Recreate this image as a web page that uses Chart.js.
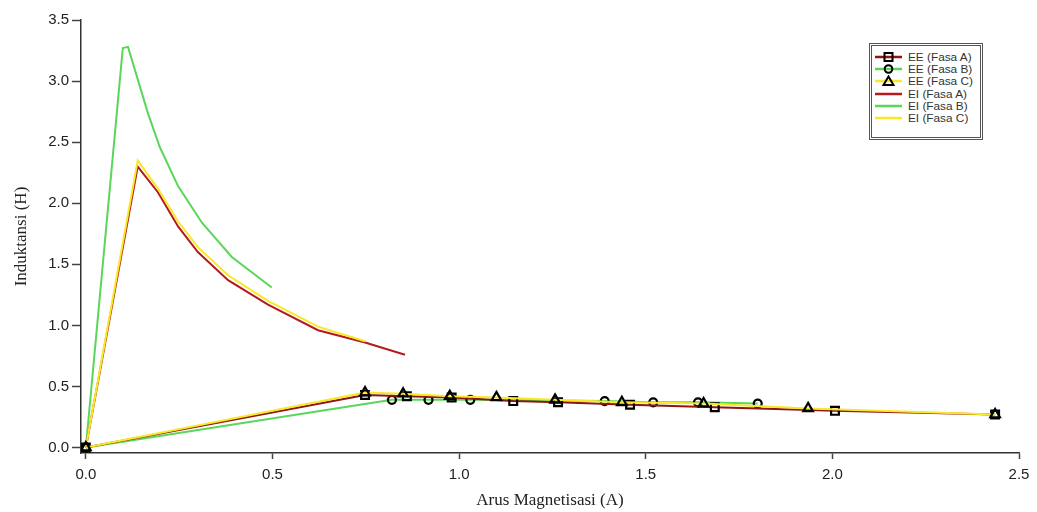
<!DOCTYPE html>
<html>
<head>
<meta charset="utf-8">
<script src="https://cdn.jsdelivr.net/npm/chart.js@4.4.0/dist/chart.umd.min.js"></script>
<style>
html, body { margin: 0; padding: 0; background: #fff; }
#wrap { position: relative; width: 1037px; height: 512px; }
#legend {
    position: absolute; left: 869px; top: 43px; width: 105px; height: 86px;
    border: 3px double #555; background: #fff; padding: 5px 0 0 3px;
    font-family: 'Liberation Sans', Arial, sans-serif; font-size: 11.8px; color: #333;
}
#legend .row { height: 12.2px; line-height: 12.2px; white-space: nowrap; display: flex; align-items: center; }
#legend svg { margin-right: 6px; flex: none; }
</style>
</head>
<body>
<div id="wrap">
<canvas id="myLineChart" width="1037" height="512"></canvas>
<div id="legend"></div>
</div>
<script>
// Tick values
const xTicks = [0, 0.5, 1.0, 1.5, 2.0, 2.5];
const yTicks = [0, 0.5, 1.0, 1.5, 2.0, 2.5, 3.0, 3.5];

// EE core (with markers)
const eeAX = [0, 0.748, 0.86, 0.98, 1.145, 1.265, 1.458, 1.685, 2.007, 2.436];
const eeAY = [0, 0.43, 0.42, 0.41, 0.38, 0.37, 0.35, 0.33, 0.30, 0.27];
const eeBX = [0, 0.82, 0.918, 1.03, 1.39, 1.52, 1.64, 1.80];
const eeBY = [0, 0.39, 0.39, 0.39, 0.38, 0.37, 0.37, 0.36];
const eeCX = [0, 0.748, 0.85, 0.975, 1.10, 1.257, 1.436, 1.655, 1.935, 2.436];
const eeCY = [0, 0.45, 0.44, 0.42, 0.41, 0.39, 0.37, 0.36, 0.32, 0.27];

// EI core (lines only)
const eiAX = [0, 0.139, 0.193, 0.247, 0.300, 0.381, 0.488, 0.622, 0.748, 0.855];
const eiAY = [0, 2.30, 2.09, 1.81, 1.60, 1.37, 1.17, 0.96, 0.86, 0.76];
const eiBX = [0, 0.099, 0.113, 0.166, 0.198, 0.247, 0.311, 0.391, 0.498];
const eiBY = [0, 3.27, 3.28, 2.74, 2.46, 2.14, 1.84, 1.56, 1.31];
const eiCX = [0, 0.139, 0.193, 0.247, 0.300, 0.381, 0.488, 0.622, 0.748];
const eiCY = [0, 2.35, 2.12, 1.85, 1.64, 1.41, 1.20, 0.99, 0.87];

const darkRed = '#8E1616';
const red = '#B51A1E';
const green = '#5AD75A';
const yellow = '#F8E825';

function pts(xs, ys) {
    return xs.map((x, i) => ({ x: x, y: ys[i] }));
}

function eeSet(label, xs, ys, color, shape, radius, order) {
    return {
        label: label, data: pts(xs, ys), borderColor: color, borderWidth: 2,
        pointStyle: shape, pointRadius: radius, pointBorderColor: '#000',
        pointBorderWidth: 2.2, pointBackgroundColor: 'rgba(0,0,0,0)',
        tension: 0, order: order
    };
}
function eiSet(label, xs, ys, color, order) {
    return {
        label: label, data: pts(xs, ys), borderColor: color, borderWidth: 2,
        pointRadius: 0, tension: 0, order: order
    };
}

const datasets = [
    eeSet('EE (Fasa A)', eeAX, eeAY, darkRed, 'rect', 5.5, 1),
    eeSet('EE (Fasa B)', eeBX, eeBY, green, 'circle', 4, 2),
    eeSet('EE (Fasa C)', eeCX, eeCY, yellow, 'triangle', 5.5, 0),
    eiSet('EI (Fasa A)', eiAX, eiAY, red, 4),
    eiSet('EI (Fasa B)', eiBX, eiBY, green, 5),
    eiSet('EI (Fasa C)', eiCX, eiCY, yellow, 3)
];

const tickFont = { family: "'Liberation Sans', Arial, sans-serif", size: 15 };
const titleFont = { family: "'Liberation Serif', 'Times New Roman', serif", size: 17 };

const ctx = document.getElementById('myLineChart').getContext('2d');
const myLineChart = new Chart(ctx, {
    type: 'line',
    data: { datasets: datasets },
    options: {
        responsive: false,
        animation: false,
        layout: { padding: { top: 20, right: 18, left: 0, bottom: 0 } },
        plugins: { legend: { display: false }, tooltip: { enabled: false } },
        scales: {
            x: {
                type: 'linear', min: -0.013, max: 2.5,
                afterBuildTicks: s => { s.ticks = xTicks.map(v => ({ value: v })); },
                afterFit: s => { s.height = 59; },
                ticks: { callback: v => v.toFixed(1), font: tickFont, color: '#222', padding: 7, maxRotation: 0, autoSkip: false },
                grid: { drawOnChartArea: false, drawTicks: true, tickLength: 6, tickColor: '#444', tickWidth: 1.5 },
                border: { color: '#333', width: 1.5 },
                title: { display: true, text: 'Arus Magnetisasi (A)', font: titleFont, color: '#222', padding: { top: 0, bottom: 1 } }
            },
            y: {
                type: 'linear', min: -0.045, max: 3.5,
                afterBuildTicks: s => { s.ticks = yTicks.map(v => ({ value: v })); },
                afterFit: s => { s.width = 81; },
                ticks: { callback: v => v.toFixed(1), font: tickFont, color: '#222', padding: 3, autoSkip: false },
                grid: { drawOnChartArea: false, drawTicks: true, tickLength: 9, tickColor: '#444', tickWidth: 1.5 },
                border: { color: '#333', width: 1.5 },
                title: { display: true, text: 'Induktansi (H)', font: titleFont, color: '#222', padding: { top: 11, bottom: 0 } }
            }
        }
    }
});

// Legend with line + marker samples
const legend = document.getElementById('legend');
datasets.forEach(d => {
    let marker = '';
    if (d.pointStyle === 'rect') marker = '<rect x="9.5" y="2" width="8" height="8" fill="none" stroke="#000" stroke-width="2"/>';
    if (d.pointStyle === 'circle') marker = '<circle cx="13.5" cy="6" r="3.8" fill="none" stroke="#000" stroke-width="2"/>';
    if (d.pointStyle === 'triangle') marker = '<polygon points="13.5,1.5 18.5,10 8.5,10" fill="none" stroke="#000" stroke-width="2"/>';
    const row = document.createElement('div');
    row.className = 'row';
    row.innerHTML = '<svg width="27" height="12"><line x1="0" y1="6" x2="27" y2="6" stroke="' + d.borderColor + '" stroke-width="2.5"/>' + marker + '</svg><span>' + d.label + '</span>';
    legend.appendChild(row);
});
</script>
</body>
</html>
